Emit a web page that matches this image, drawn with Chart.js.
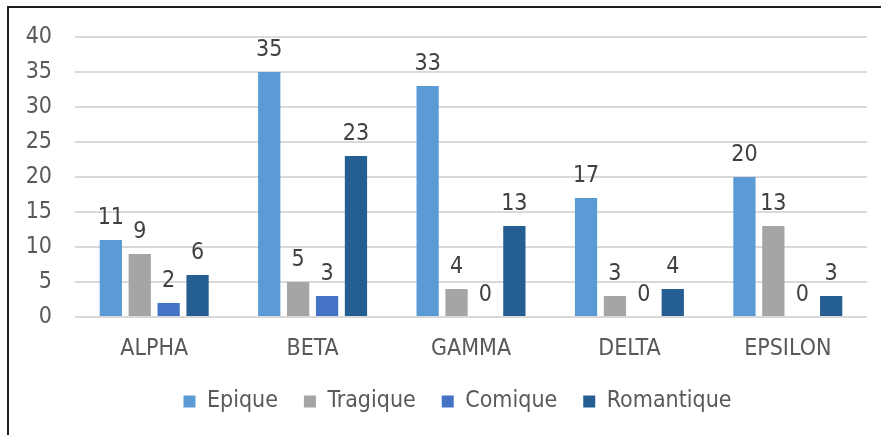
<!DOCTYPE html>
<html>
<head>
<meta charset="utf-8">
<script src="https://cdn.jsdelivr.net/npm/chart.js@4.4.1/dist/chart.umd.min.js"></script>
<style>
  html, body { margin: 0; padding: 0; background: #fff; }
  #wrap { position: absolute; left: 0; top: 0; width: 881px; height: 435px; }
</style>
</head>
<body>
<div id="wrap"><canvas id="genreChart"></canvas></div>
<script>
var categories = ["ALPHA", "BETA", "GAMMA", "DELTA", "EPSILON"];
var epique = [11, 35, 33, 17, 20];
var tragique = [9, 5, 4, 3, 13];
var comique = [2, 3, 0, 0, 0];
var romantique = [6, 23, 13, 4, 3];
var yTicks = [0, 5, 10, 15, 20, 25, 30, 35, 40];

var FONT = "'DejaVu Sans Condensed', 'DejaVu Sans', sans-serif";

// value labels above each bar, Excel style
var valueLabels = {
  id: 'valueLabels',
  afterDatasetsDraw: function(chart) {
    var ctx = chart.ctx;
    ctx.save();
    ctx.font = '23px ' + FONT;
    ctx.fillStyle = '#404040';
    ctx.textAlign = 'center';
    ctx.textBaseline = 'alphabetic';
    chart.data.datasets.forEach(function(ds, i) {
      chart.getDatasetMeta(i).data.forEach(function(bar, j) {
        ctx.fillText(String(ds.data[j]), bar.x, bar.y - 16);
      });
    });
    ctx.restore();
  }
};

// frame line on top and left edges, and nudge legend to centre under plot area
var frame = {
  id: 'frame',
  afterLayout: function(chart) {
    if (chart.legend) chart.legend.left += 48;
  },
  afterDraw: function(chart) {
    var ctx = chart.ctx;
    ctx.save();
    ctx.strokeStyle = '#1e1e1e';
    ctx.lineWidth = 2;
    ctx.beginPath();
    ctx.moveTo(8, 435);
    ctx.lineTo(8, 7);
    ctx.lineTo(881, 7);
    ctx.stroke();
    ctx.restore();
  }
};

function buildChart() {
  var ctx = document.getElementById('genreChart').getContext('2d');
  var chart = new Chart(ctx, {
    type: 'bar',
    data: {
      labels: categories,
      datasets: [
        { label: 'Epique', data: epique, backgroundColor: '#5B9BD5' },
        { label: 'Tragique', data: tragique, backgroundColor: '#A5A5A5' },
        { label: 'Comique', data: comique, backgroundColor: '#4472C4' },
        { label: 'Romantique', data: romantique, backgroundColor: '#255E91' }
      ]
    },
    options: {
      responsive: true,
      maintainAspectRatio: false,
      animation: false,
      devicePixelRatio: 1,
      categoryPercentage: 0.73,
      barPercentage: 0.77,
      layout: { padding: { top: 37, right: 14, left: 0, bottom: 12 } },
      font: { family: FONT },
      plugins: {
        tooltip: { enabled: false },
        legend: {
          position: 'bottom',
          labels: {
            boxWidth: 12,
            boxHeight: 12,
            padding: 26,
            color: '#595959',
            font: { family: FONT, size: 23 }
          }
        }
      },
      scales: {
        x: {
          grid: { display: false, drawTicks: false },
          border: { display: false },
          ticks: { color: '#595959', padding: 18, font: { family: FONT, size: 23 } },
          afterFit: function(scale) { scale.height = 47; }
        },
        y: {
          min: 0,
          max: 40,
          afterBuildTicks: function(scale) {
            scale.ticks = yTicks.map(function(v) { return { value: v }; });
          },
          grid: { color: '#D9D9D9', lineWidth: 2, drawTicks: false },
          border: { display: false },
          ticks: { color: '#595959', padding: 23, font: { family: FONT, size: 23 } },
          afterFit: function(scale) { scale.width = 75; }
        }
      }
    },
    plugins: [valueLabels, frame]
  });
}

buildChart();
</script>
</body>
</html>
